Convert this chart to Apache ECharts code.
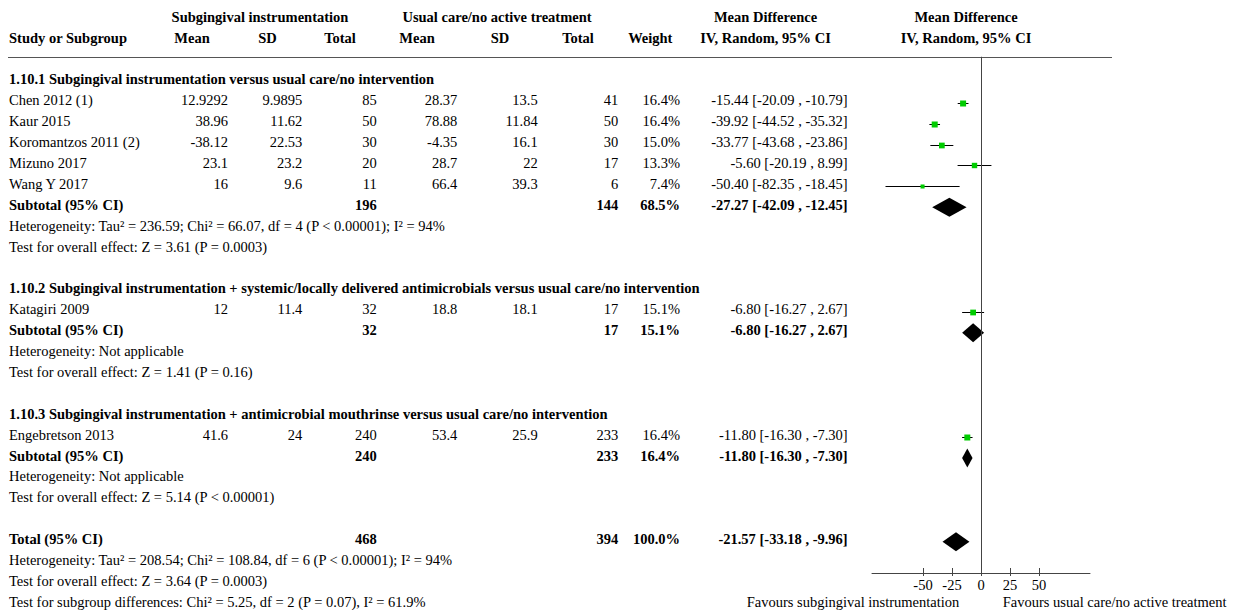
<!DOCTYPE html>
<html><head><meta charset="utf-8">
<script src="https://cdn.jsdelivr.net/npm/echarts@6/dist/echarts.min.js"></script>
<style>html,body{margin:0;padding:0;background:#fff}#c{width:1233px;height:610px}</style>
</head><body><div id="c"></div>
<script>
// ---------- data ----------
const groupTitles = [
  '1.10.1 Subgingival instrumentation versus usual care/no intervention',
  '1.10.2 Subgingival instrumentation + systemic/locally delivered antimicrobials versus usual care/no intervention',
  '1.10.3 Subgingival instrumentation + antimicrobial mouthrinse versus usual care/no intervention'
];
const studies  = ['Chen 2012 (1)', 'Kaur 2015', 'Koromantzos 2011 (2)', 'Mizuno 2017', 'Wang Y 2017', 'Katagiri 2009', 'Engebretson 2013'];
const studyGroup = [0, 0, 0, 0, 0, 1, 2];
const expMean  = [12.9292, 38.96, -38.12, 23.1, 16, 12, 41.6];
const expSD    = [9.9895, 11.62, 22.53, 23.2, 9.6, 11.4, 24];
const expN     = [85, 50, 30, 20, 11, 32, 240];
const ctlMean  = [28.37, 78.88, -4.35, 28.7, 66.4, 18.8, 53.4];
const ctlSD    = [13.5, 11.84, 16.1, 22, 39.3, 18.1, 25.9];
const ctlN     = [41, 50, 30, 17, 6, 17, 233];
const weight   = [16.4, 16.4, 15.0, 13.3, 7.4, 15.1, 16.4];
const md       = [-15.44, -39.92, -33.77, -5.60, -50.40, -6.80, -11.80];
const mdLo     = [-20.09, -44.52, -43.68, -20.19, -82.35, -16.27, -16.30];
const mdHi     = [-10.79, -35.32, -23.86, 8.99, -18.45, 2.67, -7.30];

const subExpN   = [196, 32, 240];
const subCtlN   = [144, 17, 233];
const subWeight = [68.5, 15.1, 16.4];
const subMd     = [-27.27, -6.80, -11.80];
const subLo     = [-42.09, -16.27, -16.30];
const subHi     = [-12.45, 2.67, -7.30];
const subHet    = [
  'Heterogeneity: Tau\u00b2 = 236.59; Chi\u00b2 = 66.07, df = 4 (P < 0.00001); I\u00b2 = 94%',
  'Heterogeneity: Not applicable',
  'Heterogeneity: Not applicable'
];
const subEffect = [
  'Test for overall effect: Z = 3.61 (P = 0.0003)',
  'Test for overall effect: Z = 1.41 (P = 0.16)',
  'Test for overall effect: Z = 5.14 (P < 0.00001)'
];
const totExpN = 468, totCtlN = 394, totWeight = 100.0;
const totMd = -21.57, totLo = -33.18, totHi = -9.96;
const totHet = 'Heterogeneity: Tau\u00b2 = 208.54; Chi\u00b2 = 108.84, df = 6 (P < 0.00001); I\u00b2 = 94%';
const totEffect = 'Test for overall effect: Z = 3.64 (P = 0.0003)';
const subgroupDiff = 'Test for subgroup differences: Chi\u00b2 = 5.25, df = 2 (P = 0.07), I\u00b2 = 61.9%';

const xTicks = [-50, -25, 0, 25, 50];
const favLeft = 'Favours subgingival instrumentation';
const favRight = 'Favours usual care/no active treatment';

// ---------- layout (positions/styles) ----------
const FONT = '"Liberation Serif", "Times New Roman", serif';
const FS = 14.5;
const COLS = {
  study:   { x: 9,     align: 'left' },
  eMean:   { x: 228,   align: 'right' },
  eSD:     { x: 302.3, align: 'right' },
  eN:      { x: 376.7, align: 'right' },
  cMean:   { x: 457.3, align: 'right' },
  cSD:     { x: 537.7, align: 'right' },
  cN:      { x: 618.3, align: 'right' },
  weight:  { x: 680,   align: 'right' },
  ci:      { x: 847.7, align: 'right' },
  hEMean:  { x: 192,   align: 'center' },
  hESD:    { x: 267.5, align: 'center' },
  hEN:     { x: 340,   align: 'center' },
  hCMean:  { x: 417,   align: 'center' },
  hCSD:    { x: 500,   align: 'center' },
  hCN:     { x: 578,   align: 'center' },
  hWeight: { x: 650.3, align: 'center' },
  hCI:     { x: 765.5, align: 'center' },
  hExp:    { x: 260,   align: 'center' },
  hCtl:    { x: 497,   align: 'center' },
  hPlot:   { x: 966,   align: 'center' },
  favL:    { x: 959.3, align: 'right' },
  favR:    { x: 1002.7, align: 'left' }
};
const Y_MIN = -1.2, Y_MAX = 23.5;
const GRID_TOP = 56.77, GRID_H = 516.23;

// ---------- build rows ----------
const texts = [];   // {row, col, text, bold}
const points = []; // [md, row, lo, hi, weight]
const diamonds = []; // [md, row, lo, hi]
const add = (row, col, text, bold) => texts.push({ row, col, text: String(text), bold: !!bold });
const ciText = (m, l, h) => `${m.toFixed(2)} [${l.toFixed(2)} , ${h.toFixed(2)}]`;
const wText = w => `${w.toFixed(1)}%`;

// headers
add(-3, 'hExp', 'Subgingival instrumentation', true);
add(-3, 'hCtl', 'Usual care/no active treatment', true);
add(-3, 'hCI', 'Mean Difference', true);
add(-3, 'hPlot', 'Mean Difference', true);
add(-2, 'study', 'Study or Subgroup', true);
add(-2, 'hEMean', 'Mean', true);
add(-2, 'hESD', 'SD', true);
add(-2, 'hEN', 'Total', true);
add(-2, 'hCMean', 'Mean', true);
add(-2, 'hCSD', 'SD', true);
add(-2, 'hCN', 'Total', true);
add(-2, 'hWeight', 'Weight', true);
add(-2, 'hCI', 'IV, Random, 95% CI', true);
add(-2, 'hPlot', 'IV, Random, 95% CI', true);

let r = 0;
groupTitles.forEach((title, g) => {
  add(r, 'study', title, true); r++;
  studies.forEach((s, i) => {
    if (studyGroup[i] !== g) return;
    add(r, 'study', s);
    add(r, 'eMean', expMean[i]); add(r, 'eSD', expSD[i]); add(r, 'eN', expN[i]);
    add(r, 'cMean', ctlMean[i]); add(r, 'cSD', ctlSD[i]); add(r, 'cN', ctlN[i]);
    add(r, 'weight', wText(weight[i]));
    add(r, 'ci', ciText(md[i], mdLo[i], mdHi[i]));
    points.push([md[i], r, mdLo[i], mdHi[i], weight[i]]);
    r++;
  });
  add(r, 'study', 'Subtotal (95% CI)', true);
  add(r, 'eN', subExpN[g], true); add(r, 'cN', subCtlN[g], true);
  add(r, 'weight', wText(subWeight[g]), true);
  add(r, 'ci', ciText(subMd[g], subLo[g], subHi[g]), true);
  diamonds.push([subMd[g], r, subLo[g], subHi[g]]);
  r++;
  add(r, 'study', subHet[g]); r++;
  add(r, 'study', subEffect[g]); r++;
  r++;
});
add(r, 'study', 'Total (95% CI)', true);
add(r, 'eN', totExpN, true); add(r, 'cN', totCtlN, true);
add(r, 'weight', wText(totWeight), true);
add(r, 'ci', ciText(totMd, totLo, totHi), true);
diamonds.push([totMd, r, totLo, totHi]);
r++;
add(r, 'study', totHet); r++;
add(r, 'study', totEffect); r++;
add(r, 'study', subgroupDiff);
add(r, 'favL', favLeft);
add(r, 'favR', favRight);

// ---------- chart ----------
const chart = echarts.init(document.getElementById('c'), null, { renderer: 'svg' });
const axisCommon = { min: -94, max: 94, type: 'value', splitLine: { show: false } };

chart.setOption({
  animation: false,
  backgroundColor: '#fff',
  grid: [
    { left: 872, width: 218, top: GRID_TOP, height: GRID_H, containLabel: false },
    { left: 0, width: 1233, top: GRID_TOP, height: GRID_H, containLabel: false }
  ],
  xAxis: [
    Object.assign({}, axisCommon, {
      gridIndex: 0, position: 'bottom',
      axisLine: { show: true, onZero: false, lineStyle: { color: '#444', width: 1 } },
      axisTick: { show: true, inside: false, length: 3, customValues: xTicks, lineStyle: { color: '#444' } },
      axisLabel: { show: true, customValues: xTicks, margin: 4, color: '#000', fontSize: FS, fontFamily: FONT }
    }),
    Object.assign({}, axisCommon, {
      gridIndex: 0, position: 'bottom', offset: 0,
      axisLine: { show: false, onZero: false },
      axisTick: { show: true, inside: true, length: 5, customValues: xTicks, lineStyle: { color: '#444' } },
      axisLabel: { show: false }
    }),
    { gridIndex: 1, type: 'value', min: 0, max: 1233, show: false, axisLine: { onZero: false } }
  ],
  yAxis: [
    { gridIndex: 0, type: 'value', min: Y_MIN, max: Y_MAX, inverse: true, show: false, axisLine: { onZero: false } },
    { gridIndex: 1, type: 'value', min: Y_MIN, max: Y_MAX, inverse: true, show: false, axisLine: { onZero: false } }
  ],
  series: [
    {
      type: 'custom', xAxisIndex: 0, yAxisIndex: 0, data: points, clip: false, silent: true,
      renderItem(params, api) {
        const y = Math.round(api.coord([0, api.value(1)])[1]) + 0.5;
        const xl = api.coord([api.value(2), 0])[0];
        const xh = api.coord([api.value(3), 0])[0];
        const xm = api.coord([api.value(0), 0])[0];
        const s = 6 * Math.sqrt(api.value(4) / 16.4);
        return { type: 'group', children: [
          { type: 'line', shape: { x1: xl, y1: y, x2: xh, y2: y }, style: { stroke: '#000', lineWidth: 1 } },
          { type: 'rect', shape: { x: xm - s / 2, y: y - s / 2, width: s, height: s }, style: { fill: '#00cc00' } }
        ] };
      },
      markLine: {
        silent: true, symbol: ['none', 'none'], label: { show: false },
        lineStyle: { color: '#444', width: 1, type: 'solid' },
        data: [{ xAxis: 0 }]
      }
    },
    {
      type: 'custom', xAxisIndex: 0, yAxisIndex: 0, data: diamonds, clip: false, silent: true,
      renderItem(params, api) {
        const y = api.coord([0, api.value(1)])[1];
        const xl = api.coord([api.value(2), 0])[0];
        const xh = api.coord([api.value(3), 0])[0];
        const xm = api.coord([api.value(0), 0])[0];
        const h = 9.5;
        return { type: 'polygon', shape: { points: [[xl, y], [xm, y - h], [xh, y], [xm, y + h]] }, style: { fill: '#000' } };
      }
    },
    {
      type: 'custom', xAxisIndex: 2, yAxisIndex: 1, clip: false, silent: true,
      data: texts.map(t => [COLS[t.col].x, t.row]),
      renderItem(params, api) {
        const t = texts[params.dataIndex];
        const p = api.coord([api.value(0), api.value(1)]);
        const children = [{
          type: 'text', x: p[0], y: p[1] - 2.5,
          style: {
            text: t.text, fill: '#000', fontSize: FS, fontFamily: FONT,
            fontWeight: t.bold ? 'bold' : 'normal',
            align: COLS[t.col].align, verticalAlign: 'middle',
            textAlign: COLS[t.col].align, textVerticalAlign: 'middle'
          }
        }];
        if (params.dataIndex === 0) {
          const yl = Math.round(api.coord([0, Y_MIN])[1]) + 0.5;
          const x1 = api.coord([8, 0])[0], x2 = api.coord([1112, 0])[0];
          children.push({ type: 'line', shape: { x1, y1: yl, x2, y2: yl }, style: { stroke: '#555', lineWidth: 1.2 } });
        }
        return { type: 'group', children };
      }
    }
  ]
});
</script>
</body></html>
